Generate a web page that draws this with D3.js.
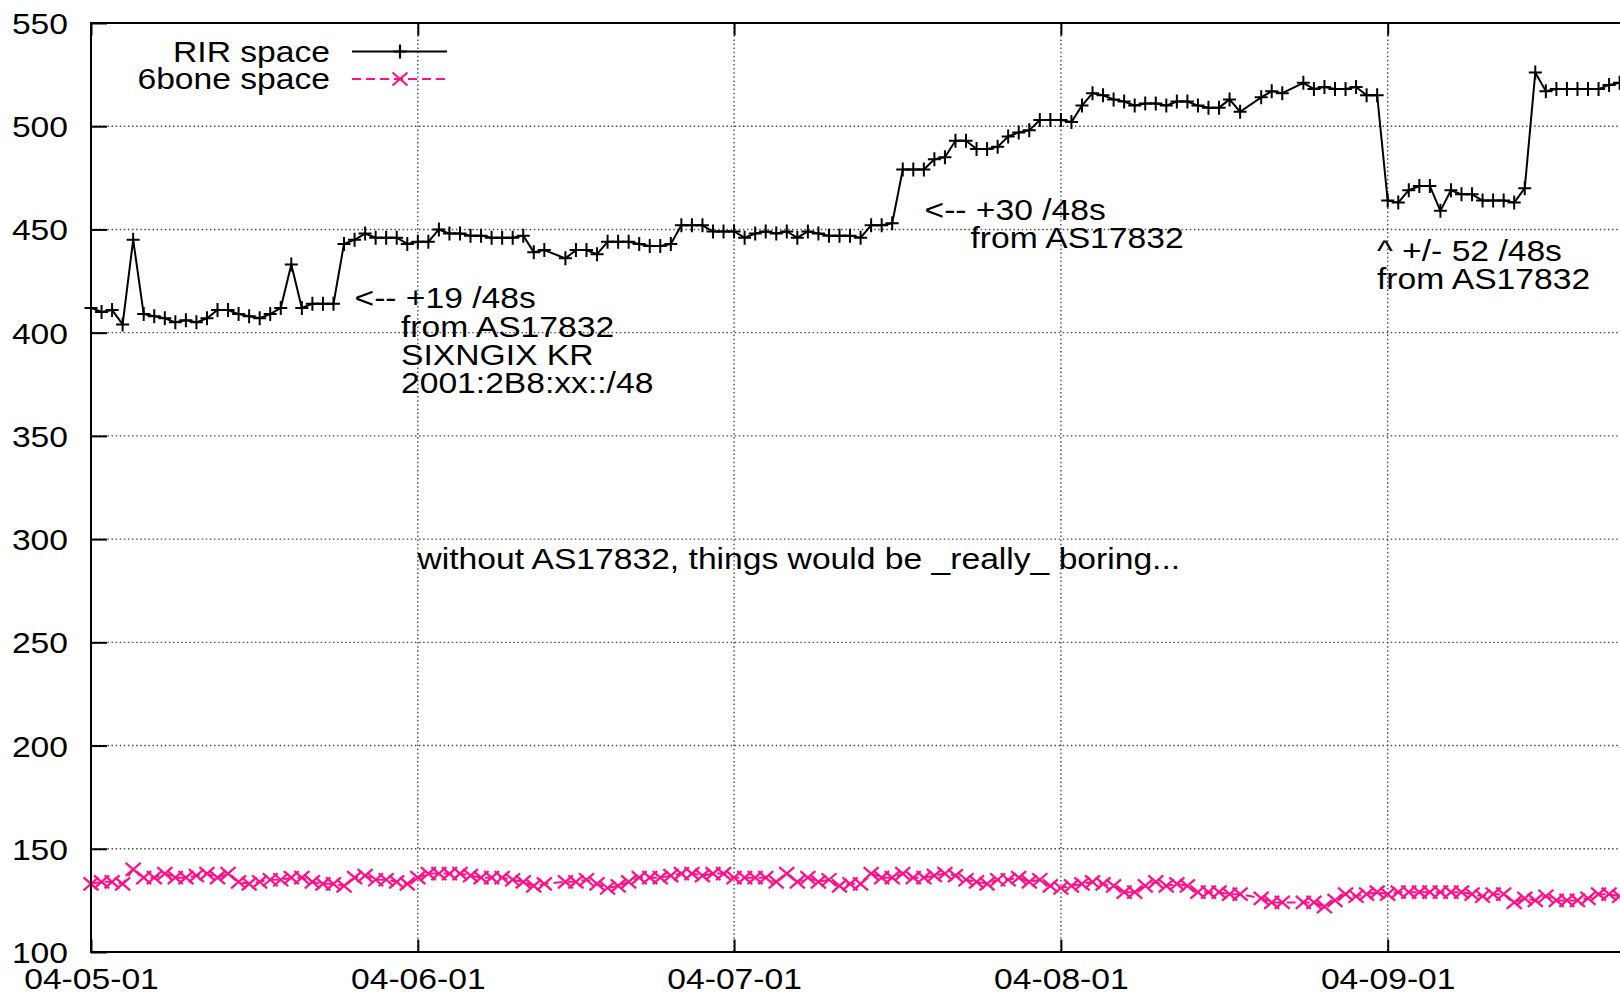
<!DOCTYPE html>
<html>
<head>
<meta charset="utf-8">
<title>IPv6 /48s seen in routing: RIR space vs 6bone space</title>
<script src="https://cdn.jsdelivr.net/npm/d3@7"></script>
<style>
  html, body { margin: 0; padding: 0; background: #fff; }
  svg { display: block; }
  text { font-family: "Liberation Sans", Arial, Helvetica, sans-serif; font-size: 29px; fill: #000; }
</style>
</head>
<body>
<svg id="chart" width="1620" height="995"></svg>
<script>
// ---- data -------------------------------------------------------------
// sample dates (one per day; a few days have no sample)
const datesMay = ["2004-05-01","2004-05-02","2004-05-03","2004-05-04","2004-05-05","2004-05-06","2004-05-07","2004-05-08","2004-05-09","2004-05-10",
  "2004-05-11","2004-05-12","2004-05-13","2004-05-14","2004-05-15","2004-05-16","2004-05-17","2004-05-18","2004-05-19","2004-05-20",
  "2004-05-21","2004-05-22","2004-05-23","2004-05-24","2004-05-25","2004-05-26","2004-05-27","2004-05-28","2004-05-29","2004-05-30","2004-05-31"];
const datesJun = ["2004-06-01","2004-06-02","2004-06-03","2004-06-04","2004-06-05","2004-06-06","2004-06-07","2004-06-08","2004-06-09","2004-06-10",
  "2004-06-11","2004-06-12","2004-06-13","2004-06-15","2004-06-16","2004-06-17","2004-06-18","2004-06-19","2004-06-20",
  "2004-06-21","2004-06-22","2004-06-23","2004-06-24","2004-06-25","2004-06-26","2004-06-27","2004-06-28","2004-06-29","2004-06-30"];
const datesJul = ["2004-07-01","2004-07-02","2004-07-03","2004-07-04","2004-07-05","2004-07-06","2004-07-07","2004-07-08","2004-07-09","2004-07-10",
  "2004-07-11","2004-07-12","2004-07-13","2004-07-14","2004-07-15","2004-07-16","2004-07-17","2004-07-18","2004-07-19","2004-07-20",
  "2004-07-21","2004-07-22","2004-07-23","2004-07-24","2004-07-25","2004-07-26","2004-07-27","2004-07-28","2004-07-29","2004-07-30","2004-07-31"];
const datesAug = ["2004-08-01","2004-08-02","2004-08-03","2004-08-04","2004-08-05","2004-08-06","2004-08-07","2004-08-08","2004-08-09","2004-08-10",
  "2004-08-11","2004-08-12","2004-08-13","2004-08-14","2004-08-15","2004-08-16","2004-08-17","2004-08-18","2004-08-20",
  "2004-08-21","2004-08-22","2004-08-24","2004-08-25","2004-08-26","2004-08-27","2004-08-28","2004-08-29","2004-08-30","2004-08-31"];
const datesSep = ["2004-09-01","2004-09-02","2004-09-03","2004-09-04","2004-09-05","2004-09-06","2004-09-07","2004-09-08","2004-09-09","2004-09-10",
  "2004-09-11","2004-09-12","2004-09-13","2004-09-14","2004-09-15","2004-09-16","2004-09-17","2004-09-18","2004-09-19","2004-09-20",
  "2004-09-21","2004-09-22","2004-09-23"];
const dates = [...datesMay, ...datesJun, ...datesJul, ...datesAug, ...datesSep];

// number of /48 prefixes from RIR-allocated space
const rirSpace = [
  412, 410, 411, 404, 445, 409, 408, 407, 405, 406, 405, 407, 411, 411, 409, 408, 407, 409, 412, 433,
  412, 414, 414, 414, 443, 445, 448, 446, 446, 446, 443,
  444, 444, 450, 448, 448, 447, 447, 446, 446, 446, 447, 439, 440,
  436, 440, 440, 438, 444, 444, 444, 443, 442, 442, 443, 452, 452, 452, 449, 449,
  449, 446, 448, 449, 448, 449, 446, 449, 448, 447, 447, 447, 446, 452, 452, 453, 479, 479, 479, 484,
  485, 493, 493, 489, 489, 490, 495, 497, 498, 503, 503,
  503, 502, 510, 516, 515, 513, 512, 510, 511, 511, 510, 512, 512, 510, 509, 509, 513, 507,
  514, 517, 516, 521, 518, 519, 518, 518, 519, 515, 515,
  464, 463, 469, 471, 471, 459, 469, 467, 467, 464, 464, 464, 463, 470, 526, 517, 518, 518, 518, 518,
  518, 520, 521
];

// number of /48 prefixes from 6bone space
const sixboneSpace = [
  133, 134, 134, 133, 140, 136, 136, 138, 136, 136, 137, 138, 136, 138, 134, 133, 134, 135, 135, 136,
  136, 134, 133, 133, 132, 136, 137, 135, 135, 134, 133,
  136, 138, 138, 138, 138, 137, 136, 136, 136, 135, 134, 132, 133,
  134, 134, 135, 133, 131, 132, 134, 136, 136, 136, 137, 138, 138, 137, 138, 138,
  136, 136, 136, 136, 134, 138, 134, 136, 134, 135, 132, 133, 133, 138, 136, 136, 138, 136, 136, 137,
  138, 137, 135, 134, 133, 135, 135, 136, 134, 135, 132,
  131, 132, 133, 134, 133, 132, 129, 129, 132, 134, 132, 133, 132, 129, 129, 129, 128, 128,
  126, 124, 124, 124, 124, 122, 125, 128, 127, 128, 129,
  128, 129, 129, 129, 129, 129, 129, 129, 128, 127, 128, 128, 124, 126, 125, 127, 125, 125, 125, 126,
  128, 128, 127
];

const seriesNames = ["RIR space", "6bone space"];
const yTickValues = [100, 150, 200, 250, 300, 350, 400, 450, 500, 550];
const xTickValues = ["2004-05-01", "2004-06-01", "2004-07-01", "2004-08-01", "2004-09-01"];

const noteJump19 = ["<-- +19 /48s", "from AS17832", "SIXNGIX KR", "2001:2B8:xx::/48"];
const noteJump30 = ["<-- +30 /48s", "from AS17832"];
const noteSwing52 = ["^ +/- 52 /48s", "from AS17832"];
const noteBoring = "without AS17832, things would be _really_ boring...";

// ---- drawing ----------------------------------------------------------
const parse = d3.utcParse("%Y-%m-%d");
const svg = d3.select("#chart");

const plot = { left: 91, right: 1620, top: 23, bottom: 952 };
const x = d3.scaleUtc()
  .domain([parse("2004-05-01"), parse("2004-09-24")])
  .range([plot.left, plot.left + 146 * 10.5423]);
const y = d3.scaleLinear().domain([100, 550]).range([plot.bottom, plot.top]);

const STRETCH = 1.16; // wide lettering
function label(g, px, py, str, anchor) {
  return g.append("text")
    .attr("transform", `translate(${px},${py}) scale(${STRETCH},1)`)
    .attr("text-anchor", anchor || "start")
    .attr("dy", "0.36em")
    .text(str);
}

// grid
const grid = svg.append("g").attr("fill", "none")
  .attr("stroke", "#4a4a4a").attr("stroke-width", 1.4).attr("stroke-dasharray", "1.5,2.6");
grid.selectAll("line.h").data(yTickValues.slice(1, -1)).join("line").attr("class", "h")
  .attr("x1", plot.left).attr("x2", plot.right)
  .attr("y1", d => y(d)).attr("y2", d => y(d));
grid.selectAll("line.v").data(xTickValues.slice(1)).join("line").attr("class", "v")
  .attr("x1", d => x(parse(d))).attr("x2", d => x(parse(d)))
  .attr("y1", plot.top).attr("y2", plot.bottom);

// series
const rows = dates.map((d, i) => ({ date: parse(d), rir: rirSpace[i], sixbone: sixboneSpace[i] }));
const pink = "#ff1088";

const lineRir = d3.line().x(d => x(d.date)).y(d => y(d.rir));
const lineSix = d3.line().x(d => x(d.date)).y(d => y(d.sixbone));

const plusPath = "M-6.5,0H6.5M0,-7V7";
const crossPath = "M-7.5,-6.5L7.5,6.5M-7.5,6.5L7.5,-6.5";

const sSix = svg.append("g");
sSix.append("path").datum(rows).attr("d", lineSix)
  .attr("fill", "none").attr("stroke", pink).attr("stroke-width", 2).attr("stroke-dasharray", "9,5");
sSix.selectAll("path.pt").data(rows).join("path").attr("class", "pt")
  .attr("transform", d => `translate(${x(d.date)},${y(d.sixbone)})`)
  .attr("d", crossPath).attr("stroke", pink).attr("stroke-width", 2.2).attr("fill", "none");

const sRir = svg.append("g");
sRir.append("path").datum(rows).attr("d", lineRir)
  .attr("fill", "none").attr("stroke", "#000").attr("stroke-width", 2).attr("stroke-linejoin", "round");
sRir.selectAll("path.pt").data(rows).join("path").attr("class", "pt")
  .attr("transform", d => `translate(${x(d.date)},${y(d.rir)})`)
  .attr("d", plusPath).attr("stroke", "#000").attr("stroke-width", 2).attr("fill", "none");

// axes (inward ticks, gnuplot style)
const yAxis = svg.append("g").attr("transform", `translate(${plot.left},0)`)
  .call(d3.axisLeft(y).tickValues(yTickValues).tickSize(-16).tickPadding(0).tickFormat(d3.format("d")));
yAxis.select(".domain").remove();
yAxis.selectAll(".tick line").attr("stroke", "#000").attr("stroke-width", 2);
yAxis.selectAll(".tick text")
  .attr("x", null).attr("dy", "0.36em").attr("font-size", null).attr("font-family", null)
  .attr("transform", `translate(-23,0) scale(${STRETCH},1)`);

const xAxis = svg.append("g").attr("transform", `translate(0,${plot.bottom})`)
  .call(d3.axisBottom(x).tickValues(xTickValues.map(parse)).tickSize(-12.5).tickPadding(16)
    .tickFormat(d3.utcFormat("%y-%m-%d")));
xAxis.select(".domain").remove();
xAxis.selectAll(".tick line").attr("stroke", "#000").attr("stroke-width", 2);
xAxis.selectAll(".tick text").attr("font-size", null).attr("font-family", null)
  .attr("transform", `scale(${STRETCH},1)`);

const xTop = svg.append("g").attr("transform", `translate(0,${plot.top})`)
  .call(d3.axisTop(x).tickValues(xTickValues.map(parse)).tickSize(-12.5).tickFormat(""));
xTop.select(".domain").remove();
xTop.selectAll(".tick line").attr("stroke", "#000").attr("stroke-width", 2);

// frame
svg.append("path")
  .attr("d", `M${plot.right},${plot.top}H${plot.left}V${plot.bottom}H${plot.right}`)
  .attr("fill", "none").attr("stroke", "#000").attr("stroke-width", 2);

// legend
const legend = svg.append("g");
const legendRows = [
  { name: seriesNames[0], cy: 51.5, color: "#000", dash: null, mark: plusPath },
  { name: seriesNames[1], cy: 79, color: pink, dash: "9,5", mark: crossPath }
];
legendRows.forEach(r => {
  label(legend, 330, r.cy, r.name, "end");
  legend.append("line").attr("x1", 352).attr("x2", 447).attr("y1", r.cy).attr("y2", r.cy)
    .attr("stroke", r.color).attr("stroke-width", 2).attr("stroke-dasharray", r.dash);
  legend.append("path").attr("transform", `translate(400,${r.cy})`).attr("d", r.mark)
    .attr("stroke", r.color).attr("stroke-width", 2.2).attr("fill", "none");
});

// annotations
const notes = svg.append("g");
label(notes, 354.5, 297.5, noteJump19[0]);
noteJump19.slice(1).forEach((t, i) => label(notes, 401, 326.5 + i * 28.2, t));
label(notes, 924.5, 209.5, noteJump30[0]);
label(notes, 970.5, 237.5, noteJump30[1]);
noteSwing52.forEach((t, i) => label(notes, 1377, 251 + i * 27.5, t));
label(notes, 417.5, 559, noteBoring);
</script>
</body>
</html>
